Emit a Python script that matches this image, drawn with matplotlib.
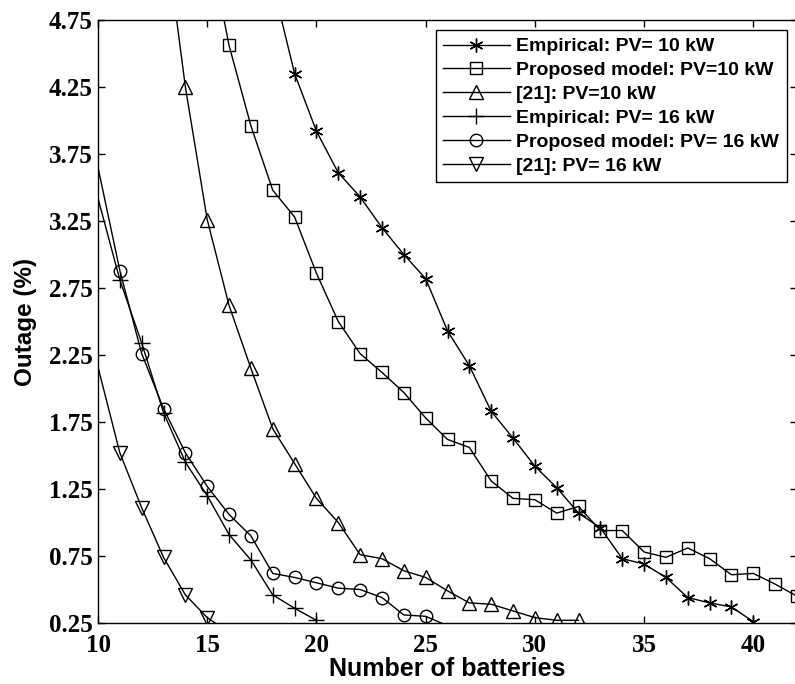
import matplotlib
matplotlib.use("Agg")
import matplotlib.pyplot as plt

# number of batteries and outage (%)
emp10_x = [18, 19, 20, 21, 22, 23, 24, 25, 26, 27, 28, 29, 30, 31, 32, 33, 34, 35, 36, 37, 38, 39, 40]
emp10_y = [5.02, 4.35, 3.92, 3.61, 3.43, 3.20, 3.00, 2.82, 2.43, 2.17, 1.83, 1.63, 1.42, 1.26,
           1.07, 0.96, 0.73, 0.69, 0.59, 0.44, 0.40, 0.37, 0.26]

mod10_x = [15, 16, 17, 18, 19, 20, 21, 22, 23, 24, 25, 26, 27, 28, 29, 30, 31, 32, 33, 34, 35,
           36, 37, 38, 39, 40, 41, 42]
mod10_y = [5.39, 4.56, 3.96, 3.48, 3.28, 2.86, 2.50, 2.26, 2.12, 1.97, 1.78, 1.62, 1.56, 1.31,
           1.18, 1.17, 1.07, 1.12, 0.94, 0.94, 0.78, 0.74, 0.81, 0.73, 0.61, 0.62, 0.54, 0.45]

ref10_x = [13, 14, 15, 16, 17, 18, 19, 20, 21, 22, 23, 24, 25, 26, 27, 28, 29, 30, 31, 32]
ref10_y = [5.50, 4.25, 3.26, 2.62, 2.15, 1.70, 1.44, 1.18, 1.00, 0.76, 0.73, 0.64, 0.59, 0.49,
           0.40, 0.39, 0.34, 0.29, 0.27, 0.27]

emp16_x = [10, 11, 12, 13, 14, 15, 16, 17, 18, 19, 20]
emp16_y = [3.42, 2.81, 2.34, 1.82, 1.45, 1.20, 0.91, 0.72, 0.46, 0.36, 0.27]

mod16_x = [10, 11, 12, 13, 14, 15, 16, 17, 18, 19, 20, 21, 22, 23, 24, 25, 26]
mod16_y = [3.65, 2.88, 2.26, 1.85, 1.52, 1.27, 1.06, 0.90, 0.62, 0.59, 0.55, 0.51, 0.50, 0.44,
           0.31, 0.30, 0.23]

ref16_x = [10, 11, 12, 13, 14, 15, 16]
ref16_y = [2.16, 1.52, 1.11, 0.74, 0.46, 0.29, 0.18]

labels = ["Empirical: PV= 10 kW", "Proposed model: PV=10 kW", "[21]: PV=10 kW",
          "Empirical: PV= 16 kW", "Proposed model: PV= 16 kW", "[21]: PV= 16 kW"]

sans = ["Liberation Sans", "DejaVu Sans"]
serif = ["Liberation Serif", "DejaVu Serif"]

fig = plt.figure(figsize=(7.95, 6.84), dpi=100)
ax = fig.add_axes([98 / 795, 61 / 684, 699 / 795, 603 / 684])

kw = dict(color="black", lw=1.0, mfc="none", mec="black", mew=1.0)
ax.plot(emp10_x, emp10_y, marker=(6, 2, 0), ms=10, label=labels[0], **kw)
ax.plot(mod10_x, mod10_y, marker="s", ms=8, label=labels[1], **kw)
ax.plot(ref10_x, ref10_y, marker="^", ms=10, label=labels[2], **kw)
ax.plot(emp16_x, emp16_y, marker="+", ms=11, markevery=slice(1, None), label=labels[3], **kw)
ax.plot(mod16_x, mod16_y, marker="o", ms=9, markevery=slice(1, len(mod16_x) - 1), label=labels[4], **kw)
ax.plot(ref16_x, ref16_y, marker="v", ms=10, markevery=slice(1, len(ref16_x) - 1), label=labels[5], **kw)

ax.set_xlim(10, 42)
ax.set_ylim(0.25, 4.75)
ax.set_xticks([10, 15, 20, 25, 30, 35, 40])
ax.set_yticks([0.25, 0.75, 1.25, 1.75, 2.25, 2.75, 3.25, 3.75, 4.25, 4.75])
ax.set_yticklabels(["%.2f" % v for v in ax.get_yticks()])
ax.tick_params(direction="in", length=5, width=1, top=True, right=True)
ax.tick_params(axis="x", pad=8)
ax.tick_params(axis="y", pad=4)
for t in ax.get_xticklabels() + ax.get_yticklabels():
    t.set_family(serif)
    t.set_weight("bold")
    t.set_fontsize(18)
for s in ax.spines.values():
    s.set_linewidth(1.0)

ax.set_xlabel("Number of batteries", family=sans, weight="bold", fontsize=18, labelpad=0)
ax.set_ylabel("Outage (%)", family=sans, weight="bold", fontsize=17.5, labelpad=8)

leg = ax.legend(loc="upper right", bbox_to_anchor=(787 / 795, 1 - 30 / 684),
                bbox_transform=fig.transFigure, borderaxespad=0, fancybox=False,
                framealpha=1, edgecolor="black", handlelength=3.4, handletextpad=0.35,
                labelspacing=0.32, borderpad=0.4,
                prop=dict(family=sans, weight="bold", size=14))
leg.get_frame().set_linewidth(1.0)

fig.savefig("out.png", dpi=100)
